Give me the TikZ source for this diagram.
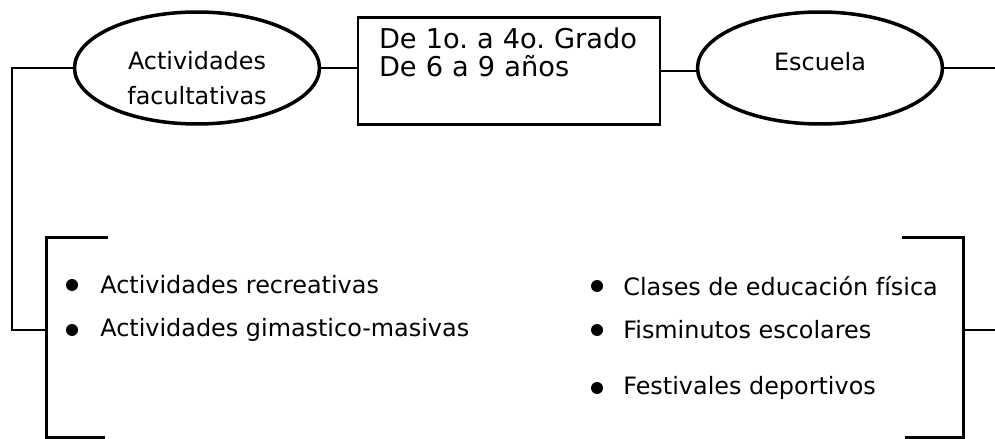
\documentclass[tikz,border=0pt]{standalone}
\usepackage{fontspec}
\setmainfont{DejaVu Sans}
\usetikzlibrary{shapes.geometric}

\begin{document}
\frenchspacing
\begin{tikzpicture}[x=0.02cm, y=-0.02cm,
	font=\fontsize{13.6}{16}\selectfont,
	oval/.style={ellipse, draw, line width=2pt, minimum width=4.9cm, minimum height=2.24cm, inner sep=0pt, align=center},
	gradebox/.style={draw, line width=1.6pt, minimum width=6.04cm, minimum height=2.14cm, inner sep=0pt, text width=5.2cm, align=left, font=\fontsize{15.5}{16.5}\selectfont},
	link/.style={line width=1.1pt},
	bracket/.style={line width=2pt},
	item/.style={anchor=west, inner sep=0pt}]

	\useasboundingbox (0,0) rectangle (995,439);

	% Node definitions.
	\node[oval] (act_fac) at (197,68) {\rule{0pt}{22pt}Actividades\\[4pt]facultativas};
	\node[gradebox] (grade) at (509,71) {De 1o. a 4o. Grado\\De 6 a 9 años\\\strut};
	\node[oval] (school) at (820,68) {Escuela\\[-9pt]\mbox{}};
	\node[minimum width=18.32cm, minimum height=3.98cm] (act_list) at (505,337.5) {};
	\coordinate (edge) at (995,0);

	% List items.
	\node[item] (recre) at (100,285) {Actividades recreativas};
	\node[item] (gimna) at (100,330) {Actividades gimastico-masivas};
	\node[item] (clases) at (623,286) {Clases de educación física};
	\node[item] (fismin) at (623,330) {Fisminutos escolares};
	\node[item] (festiv) at (623,388) {Festivales deportivos};

	% Bullets.
	\fill ([xshift=-0.56cm]recre.west) circle (0.12cm);
	\fill ([xshift=-0.56cm]gimna.west) circle (0.12cm);
	\fill ([xshift=-0.52cm]clases.west) circle (0.12cm);
	\fill ([xshift=-0.52cm]fismin.west) circle (0.12cm);
	\fill ([xshift=-0.52cm]festiv.west) circle (0.12cm);

	% Brackets.
	\draw[bracket] ([xshift=1.22cm]act_list.north west) -- (act_list.north west)
		-- (act_list.south west) -- ([xshift=1.16cm]act_list.south west);
	\draw[bracket] ([xshift=-1.22cm]act_list.north east) -- (act_list.north east)
		-- (act_list.south east) -- ([xshift=-1.16cm]act_list.south east);

	% Lines.
	\draw[link] (act_fac.west) -- ++(-1.21cm,0) |- ([yshift=0.15cm]act_list.west);
	\draw[link] (act_fac.east) -- (act_fac.east -| grade.west);
	\draw[link] (grade.east) -- (grade.east -| school.west);
	\draw[link] (school.east) -- (school.east -| edge);
	\draw[link] ([yshift=0.15cm]act_list.east) -- ([yshift=0.15cm]act_list.east -| edge);

\end{tikzpicture}
\end{document}
